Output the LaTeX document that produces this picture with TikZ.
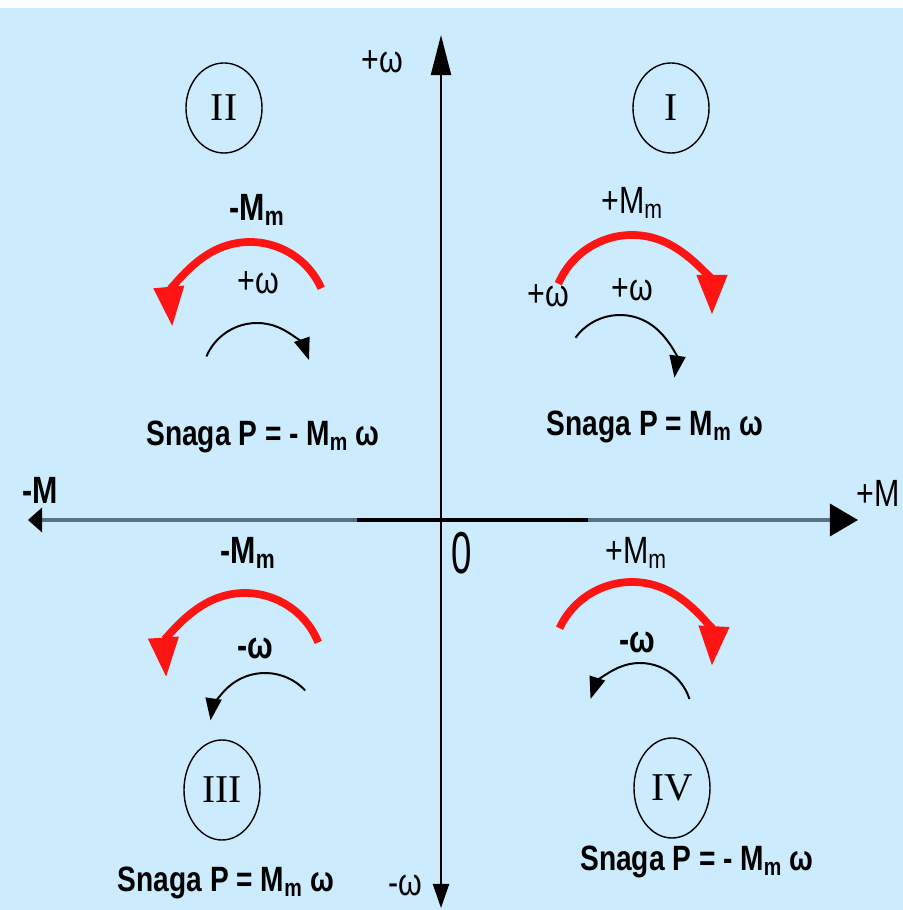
\documentclass[tikz,border=0pt]{standalone}
\usepackage{fontspec}
\setmainfont{Liberation Sans}
\newfontfamily\narrowsf[FakeStretch=0.8]{Liberation Sans}
\newfontfamily\numeral{Liberation Serif}
\newfontfamily\zerofont[FakeStretch=0.62]{Liberation Sans}
\usetikzlibrary{arrows.meta}
\usetikzlibrary{shapes.geometric}
\definecolor{paneblue}{RGB}{204,235,252}
\definecolor{axisgray}{RGB}{88,114,130}
\definecolor{torquered}{RGB}{255,20,20}

\begin{document}
\begin{tikzpicture}[x=0.025cm, y=0.025cm,
  torque/.style={line width=5.5pt, color=torquered, -{Triangle[length=1cm, width=0.72cm]}},
  speed/.style={line width=1.4pt, -{Triangle[length=0.55cm, width=0.4cm]}},
  quadrant/.style={draw, ellipse, line width=1pt, minimum width=1.9cm, inner sep=0pt, font=\numeral\fontsize{28}{30}\selectfont},
  lab/.style={font=\narrowsf\fontsize{27}{30}\selectfont},
  mlab/.style={font=\narrowsf\bfseries\fontsize{27}{30}\selectfont},
  power/.style={font=\narrowsf\bfseries\fontsize{25}{30}\selectfont}]

% background
\fill[white] (0,0) rectangle (903,910);
\fill[paneblue] (0,0) rectangle (903,902);
\useasboundingbox (0,0) rectangle (903,910);

% axes
\coordinate (O) at (441,390);
\coordinate (wtop) at (441,875);
\coordinate (wbot) at (441,2);
\coordinate (mleft) at (28,390);
\coordinate (mright) at (858,390);

\draw[line width=1.4pt, {Triangle[length=0.6cm, width=0.4cm]}-{Triangle[length=1cm, width=0.5cm]}] (wbot) -- (wtop);
\draw[line width=2.4pt, color=axisgray, {Triangle[length=0.35cm, width=0.6cm, color=black]}-{Triangle[length=0.7cm, width=0.8cm, color=black]}] (mleft) -- (mright);
\draw[line width=2.4pt] (357,390) -- (588,390);

\node[lab] (wplus) at (382,848) {+ω};
\node[lab] (wminus) at (405,25) {-ω};
\node[mlab] (mminus) at (40,420) {-M};
\node[lab] (mplus) at (878,417) {+M};
\node[font=\zerofont\fontsize{42}{44}\selectfont] (zero) at (462,357) {0};

% quadrant marks
\node[quadrant, minimum height=2.25cm] (qI) at (671,802) {I};
\node[quadrant, minimum height=2.25cm] (qII) at (224,802) {II};
\node[quadrant, minimum height=2.5cm] (qIII) at (222,120) {III};
\node[quadrant, minimum height=2.5cm] (qIV) at (672,122) {IV};

% quadrant I
\coordinate (tI) at (632,595);
\coordinate (sI) at (620,540);
\draw[torque] (tI) ++(157:80) arc[start angle=157, end angle=0, radius=80];
\draw[speed] (sI) ++(144:55) arc[start angle=144, end angle=-8, radius=55];
\node[lab] (mI) at (632,707) {+M\textsubscript{m}};
\node[lab] (wIa) at (548,614) {+ω};
\node[lab] (wIb) at (632,620) {+ω};
\node[power] (pI) at (655,483) {Snaga P = M\textsubscript{m} ω};

% quadrant II
\coordinate (tII) at (250,590);
\coordinate (sII) at (257,532);
\draw[torque] (tII) ++(24:78) arc[start angle=24, end angle=185, radius=78];
\draw[speed] (sII) ++(157:55) arc[start angle=157, end angle=19, radius=55];
\node[mlab] (mII) at (257,700) {-M\textsubscript{m}};
\node[lab] (wII) at (258,627) {+ω};
\node[power] (pII) at (263,473) {Snaga P = - M\textsubscript{m} ω};

% quadrant III
\coordinate (tIII) at (245,238);
\coordinate (sIII) at (265,182);
\draw[torque] (tIII) ++(22:79) arc[start angle=22, end angle=184, radius=79];
\draw[speed] (sIII) ++(43:55) arc[start angle=43, end angle=172, radius=55];
\node[mlab] (mIII) at (248,357) {-M\textsubscript{m}};
\node[mlab] (wIII) at (255,262) {-ω};
\node[power] (pIII) at (226,27) {Snaga P = M\textsubscript{m} ω};

% quadrant IV
\coordinate (tIV) at (632,248);
\coordinate (sIV) at (640,195);
\draw[torque] (tIV) ++(155:80) arc[start angle=155, end angle=-3, radius=80];
\draw[speed] (sIV) ++(18:52) arc[start angle=18, end angle=162, radius=52];
\node[lab] (mIV) at (636,357) {+M\textsubscript{m}};
\node[mlab] (wIV) at (637,268) {-ω};
\node[power] (pIV) at (697,48) {Snaga P = - M\textsubscript{m} ω};

\end{tikzpicture}
\end{document}
